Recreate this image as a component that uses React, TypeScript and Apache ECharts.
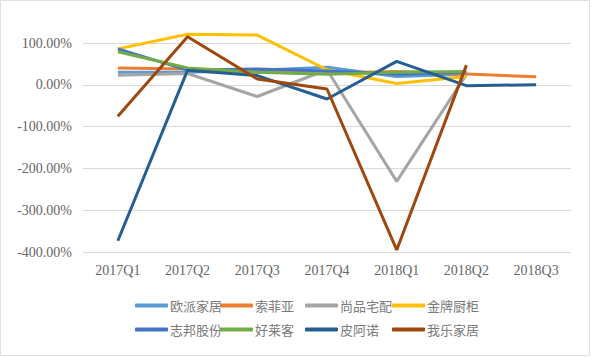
import React, { useEffect, useRef } from "react";
import * as echarts from "echarts";

const categories = ["2017Q1", "2017Q2", "2017Q3", "2017Q4", "2018Q1", "2018Q2", "2018Q3"];
const seriesNames = ["欧派家居", "索菲亚", "尚品宅配", "金牌厨柜", "志邦股份", "好莱客", "皮阿诺", "我乐家居"];
const oupai = [30, 30, 35, 42, 20, 25, null];
const suofeiya = [40, 38, 30, 28, 32, 26, 19];
const shangpin = [23, 27, -28, 36, -231, 25, null];
const jinpai = [86, 121, 119, 36, 3, 20, null];
const zhibang = [86, 35, 38, 33, 25, 30, null];
const haolaike = [79, 40, 30, 25, 30, 32, null];
const pianuo = [-373, 35, 22, -34, 56, -2, 0];
const wole = [-75, 115, 14, -10, -395, 47, null];
const seriesValues = [oupai, suofeiya, shangpin, jinpai, zhibang, haolaike, pianuo, wole];
const colors = ["#5B9BD5", "#ED7D31", "#A5A5A5", "#FFC000", "#4472C4", "#70AD47", "#255E91", "#9E480E"];
const yTicks = { min: -400, max: 100, interval: 100 };

const legendLeft = [130, 215, 300, 387];
const legendTop = [294, 318];

export default function App() {
  const ref = useRef<HTMLDivElement>(null);
  useEffect(() => {
    if (!ref.current) return;
    const chart = echarts.init(ref.current, null, { renderer: "svg" });
    const font = "Liberation Serif, DejaVu Serif, serif";
    const legends = seriesNames.map((name, i) => ({
      data: [name],
      left: legendLeft[i % 4],
      top: legendTop[Math.floor(i / 4)],
      itemWidth: 33,
      itemHeight: 4,
      itemGap: 0,
      icon: "roundRect",
      selectedMode: false,
      textStyle: { color: "#7A7A7A", fontSize: 13, fontFamily: "Noto Sans CJK SC, sans-serif", padding: [0, 0, 0, -3] },
    }));
    chart.setOption({
      animation: false,
      backgroundColor: "#fff",
      color: colors,
      grid: { left: 83, right: 22, top: 43, bottom: 105 },
      legend: legends,
      graphic: [
        {
          type: "rect",
          shape: { x: 0.5, y: 0.5, width: 589, height: 355 },
          style: { fill: "none", stroke: "#E0E0E0", lineWidth: 1 },
          silent: true,
        },
      ],
      xAxis: {
        type: "category",
        data: categories,
        boundaryGap: true,
        axisLine: { show: true, lineStyle: { color: "#D9D9D9" } },
        axisTick: { show: false },
        axisLabel: { color: "#666666", fontSize: 14, fontFamily: font, margin: 11 },
      },
      yAxis: {
        type: "value",
        min: yTicks.min,
        max: yTicks.max,
        interval: yTicks.interval,
        axisLine: { show: false },
        axisTick: { show: false },
        splitLine: { lineStyle: { color: "#D9D9D9" } },
        axisLabel: {
          color: "#666666",
          fontSize: 14,
          fontFamily: font,
          margin: 11,
          formatter: (v: number) => `${v.toFixed(2)}%`,
        },
      },
      series: seriesNames.map((name, i) => ({
        name,
        type: "line",
        data: seriesValues[i],
        showSymbol: false,
        symbol: "none",
        clip: false,
        connectNulls: false,
        lineStyle: { width: 3, color: colors[i] },
        itemStyle: { color: colors[i] },
      })),
    });
    return () => chart.dispose();
  }, []);
  return (
    <div
      ref={ref}
      style={{ position: "absolute", left: 0, top: 0, width: 593, height: 357 }}
    />
  );
}
